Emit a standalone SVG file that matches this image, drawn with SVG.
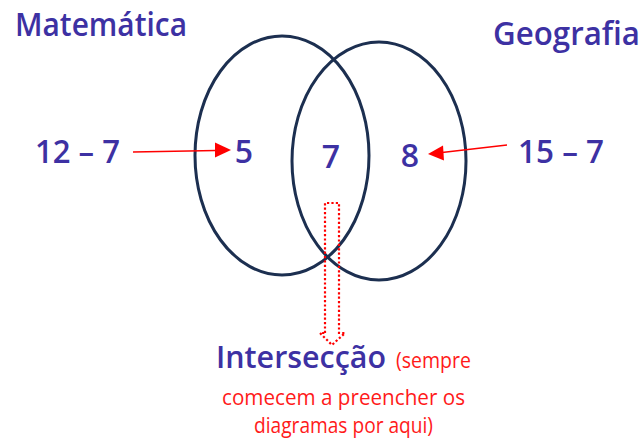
<svg xmlns="http://www.w3.org/2000/svg" width="643" height="439" viewBox="0 0 643 439">
<style>
.set{fill:none;stroke:#1c2f50;stroke-width:3}
.lbl{font-family:"Open Sans","Noto Sans",sans-serif;font-weight:600;fill:#3d31a3}
.note{font-family:"Open Sans","Noto Sans",sans-serif;fill:#ff1a1a;font-size:21px;font-weight:400}
.arr{stroke:#ff0000;stroke-width:1.5;fill:none}
.head{fill:#ff0000}
.dot{fill:none;stroke:#ff0000;stroke-width:2.2;stroke-dasharray:2.2 2.2}
</style>
<rect width="643" height="439" fill="#ffffff"/>
<g id="set-matematica">
<ellipse class="set" cx="282" cy="155.5" rx="87" ry="119.5"/>
<text class="lbl" x="15" y="36" font-size="32" textLength="172" lengthAdjust="spacingAndGlyphs">Matemática</text>
</g>
<g id="set-geografia">
<ellipse class="set" cx="379" cy="161" rx="87" ry="119"/>
<text class="lbl" x="493" y="45" font-size="32" textLength="147" lengthAdjust="spacingAndGlyphs">Geografia</text>
</g>
<g id="only-matematica">
<text class="lbl" x="244" y="163" font-size="32" text-anchor="middle">5</text>
</g>
<g id="intersection">
<text class="lbl" x="331" y="168" font-size="32" text-anchor="middle">7</text>
</g>
<g id="only-geografia">
<text class="lbl" x="410" y="167" font-size="32" text-anchor="middle">8</text>
</g>
<g id="calc-matematica">
<text class="lbl" x="35" y="163" font-size="32" textLength="85" lengthAdjust="spacingAndGlyphs">12 – 7</text>
</g>
<g id="calc-geografia">
<text class="lbl" x="518" y="163" font-size="32" textLength="86" lengthAdjust="spacingAndGlyphs">15 – 7</text>
</g>
<g id="label-intersecao">
<text class="lbl" x="216" y="368" font-size="30" textLength="170" lengthAdjust="spacingAndGlyphs">Intersecção</text>
<text class="note" x="396" y="368" textLength="75" lengthAdjust="spacingAndGlyphs">(sempre</text>
<text class="note" x="222" y="405" textLength="243" lengthAdjust="spacingAndGlyphs">comecem a preencher os</text>
<text class="note" x="254" y="433" textLength="179" lengthAdjust="spacingAndGlyphs">diagramas por aqui)</text>
</g>
<g id="connectors">
<line class="arr" x1="133" y1="152" x2="216" y2="150.5"/>
<polygon class="head" points="231,150 215,142.5 215,157.5"/>
<line class="arr" x1="507" y1="145" x2="442" y2="152.5"/>
<polygon class="head" points="428,154 443,145.5 444,160.5"/>
<path class="dot" d="M325,333 L325,203 L339,203 L339,333 L345,333 L332,345 L320,333 Z"/>
</g>
</svg>
